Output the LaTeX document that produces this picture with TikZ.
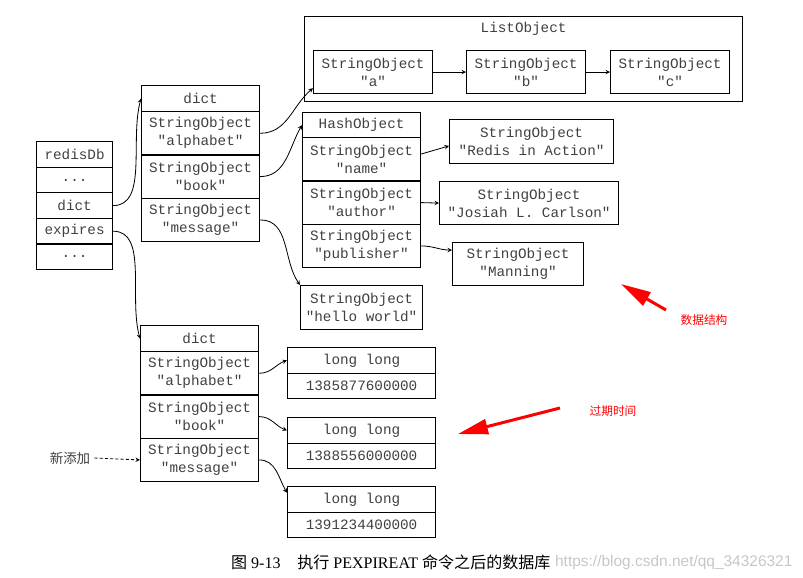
\documentclass[tikz,border=0pt]{standalone}
\usepackage{fontspec}
\setmainfont{Liberation Serif}
\newfontfamily\objfont[Ligatures=TeXOff]{Liberation Mono}
\newfontfamily\cjk{Noto Sans CJK SC}
\newfontfamily\wmfont{Liberation Sans}
\usetikzlibrary{arrows.meta}
\newcommand{\obj}{\objfont\fontsize{12.2}{15.4}\selectfont}

\begin{document}
\begin{tikzpicture}[x=0.03cm, y=0.03cm]
    \tikzstyle{arrow} = [->,>=stealth, line width=0.7pt]
    \tikzstyle{redarrow} = [-{Triangle[length=0.9cm,width=0.45cm]}, red,
        line width=0.09cm]
    \tikzstyle{box} = [rectangle, draw=black, line width=1pt, align=center,
        inner sep=0pt, text=black!75, font=\obj]
    \tikzstyle{dbcell} = [box, minimum width=2.28cm, minimum height=0.768cm]
    \tikzstyle{dhead} = [box, minimum width=3.54cm, minimum height=0.78cm]
    \tikzstyle{dcell} = [box, minimum width=3.54cm, minimum height=1.3cm]
    \tikzstyle{strbox} = [box, minimum width=3.57cm, minimum height=1.29cm]
    \tikzstyle{lcell} = [box, minimum width=4.44cm, minimum height=0.765cm]
    \tikzstyle{note} = [font=\cjk\fontsize{10}{12}\selectfont, text=red]

    \useasboundingbox (0,0) rectangle (803,-577);

    % redisDb
    \node(db0) [dbcell] at (36,-141) [anchor=north west] {redisDb};
    \node(db1) [dbcell, below of=db0, node distance=0.768cm] {...};
    \node(dbdict) [dbcell, below of=db1, node distance=0.768cm] {dict};
    \node(dbexp) [dbcell, below of=dbdict, node distance=0.768cm] {expires};
    \node(db4) [dbcell, below of=dbexp, node distance=0.768cm] {...};

    % key space
    \node(d1head) [dhead] at (141,-85) [anchor=north west] {dict};
    \node(d1alpha) [dcell] at (141,-111) [anchor=north west]
        {StringObject\\"alphabet"};
    \node(d1book) [dcell, below of=d1alpha, node distance=1.3cm]
        {StringObject\\"book"};
    \node(d1msg) [dcell, below of=d1book, node distance=1.3cm]
        {StringObject\\"message"};

    % values
    \node(listObj) [box, minimum width=13.14cm, minimum height=2.55cm,
        label={[font=\obj, text=black!75, anchor=center,
        yshift=-0.39cm]north:ListObject}]
        at (304,-16) [anchor=north west] {};
    \node(listA) [strbox] at (313,-50) [anchor=north west]
        {StringObject\\"a"};
    \node(listB) [strbox] at (466,-50) [anchor=north west]
        {StringObject\\"b"};
    \node(listC) [strbox] at (610,-50) [anchor=north west]
        {StringObject\\"c"};

    \node(hashHead) [dhead, minimum height=0.75cm] at (302,-112)
        [anchor=north west] {HashObject};
    \node(hName) [dcell] at (302,-137) [anchor=north west]
        {StringObject\\"name"};
    \node(hAuthor) [dcell, below of=hName, node distance=1.3cm]
        {StringObject\\"author"};
    \node(hPub) [dcell, below of=hAuthor, node distance=1.3cm]
        {StringObject\\"publisher"};

    \node(redis) [box, minimum width=4.92cm, minimum height=1.32cm]
        at (449,-119) [anchor=north west]
        {StringObject\\"Redis in Action"};
    \node(josiah) [box, minimum width=5.37cm, minimum height=1.29cm]
        at (439,-181) [anchor=north west]
        {StringObject\\"Josiah L. Carlson"};
    \node(manning) [box, minimum width=3.93cm, minimum height=1.29cm]
        at (452,-242) [anchor=north west]
        {StringObject\\"Manning"};
    \node(hello) [box, minimum width=3.66cm, minimum height=1.32cm]
        at (300,-285) [anchor=north west]
        {StringObject\\"hello world"};

    % expires
    \node(d2head) [dhead] at (140,-325) [anchor=north west] {dict};
    \node(d2alpha) [dcell] at (140,-351) [anchor=north west]
        {StringObject\\"alphabet"};
    \node(d2book) [dcell, below of=d2alpha, node distance=1.3cm]
        {StringObject\\"book"};
    \node(d2msg) [dcell, below of=d2book, node distance=1.3cm]
        {StringObject\\"message"};

    \node(l1type) [lcell] at (287,-347) [anchor=north west] {long long};
    \node(l1val) [lcell, below of=l1type, node distance=0.765cm]
        {1385877600000};
    \node(l2type) [lcell] at (287,-417) [anchor=north west] {long long};
    \node(l2val) [lcell, below of=l2type, node distance=0.765cm]
        {1388556000000};
    \node(l3type) [lcell] at (287,-486) [anchor=north west] {long long};
    \node(l3val) [lcell, below of=l3type, node distance=0.765cm]
        {1391234400000};

    % notes
    \node(newAdd) [font=\cjk\fontsize{11.5}{14}\selectfont, text=black!75]
        at (70,-458) {新添加};
    \node(lblData) [note] at (704,-320) {数据结构};
    \node(lblTime) [note] at (613,-411) {过期时间};
    \coordinate (dataTail) at (666,-310);
    \coordinate (dataTip) at (621,-284);
    \coordinate (timeTail) at (560,-408);
    \coordinate (timeTip) at (458,-434);

    \node(caption) [anchor=west, font=\fontsize{13.7}{16}\selectfont]
        at (227,-562)
        {{\cjk 图} 9-13\hspace{0.5cm}{\cjk 执行} PEXPIREAT {\cjk 命令之后的数据库}};
    \node(watermark) [anchor=west, text=black!22,
        font=\wmfont\fontsize{13.2}{15}\selectfont]
        at (551,-562) {https://blog.csdn.net/qq\_34326321};

    \draw[arrow] (dbdict.east) to[out=0,in=-105,out looseness=0.8]
        (d1head.west);
    \draw[arrow] (dbexp.east) to[out=0,in=105,out looseness=0.8]
        (d2head.west);
    \draw[arrow] (d1alpha.east) to[out=0,in=-140] (listA.195);
    \draw[arrow] (d1book.east) to[out=0,in=-120] (hashHead.west);
    \draw[arrow] (d1msg.east) to[out=0,in=125] (hello.north west);
    \draw[arrow] (listA) -- (listB);
    \draw[arrow] (listB) -- (listC);
    \draw[arrow] (hName.5) -- (redis.183);
    \draw[arrow] (hAuthor.east) -- (josiah.west);
    \draw[arrow] (hPub.east) to[out=0,in=180] (manning.168);
    \draw[arrow] (d2alpha.east) to[out=0,in=-160] (l1type.west);
    \draw[arrow] (d2book.east) to[out=0,in=160] (l2type.west);
    \draw[arrow] (d2msg.east) to[out=0,in=120] (l3type.175);
    \draw[arrow, dashed, dash pattern=on 2.5pt off 2pt] (newAdd.east)
        -- (d2msg.west);

    \draw[redarrow] (dataTail) -- (dataTip);
    \draw[redarrow] (timeTail) -- (timeTip);
\end{tikzpicture}
\end{document}
